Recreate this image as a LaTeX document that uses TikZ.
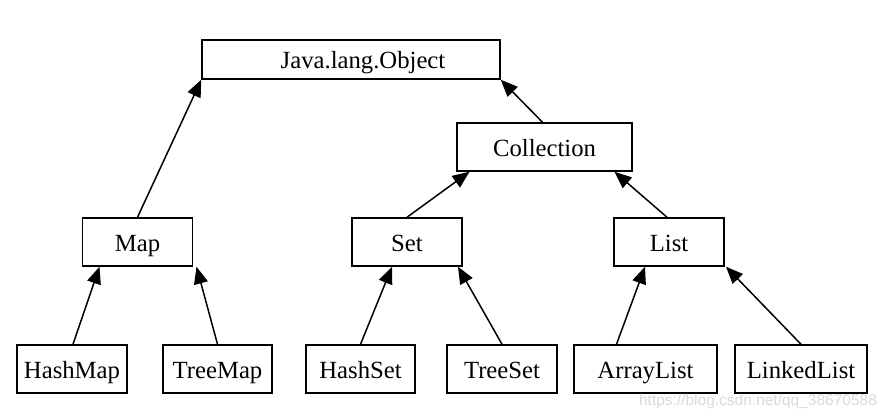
\documentclass[tikz,border=0pt]{standalone}
\usepackage{fontspec}
\setmainfont{Liberation Serif}
\newfontfamily\wmfont{Liberation Sans}
\usetikzlibrary{arrows.meta}

\tikzset{
    cls/.style={draw, line width=1.5pt, minimum height=48pt, inner sep=0pt,
        text height=20pt, text depth=2pt,
        font=\fontsize{24.7}{28}\selectfont},
    inherit/.style={line width=1.5pt, -{Triangle[length=17pt,width=14pt]}},
    wm/.style={text=gray!30, font=\wmfont\fontsize{15.5}{18}\selectfont}
}

\begin{document}
\begin{tikzpicture}[x=1pt, y=-1pt]
    \useasboundingbox (0,0) rectangle (890,418);

    % Root and Collection
    \node[cls, minimum width=298pt, minimum height=39pt] (object) at (351,59.5) {\hspace*{24pt}Java.lang.Object};
    \node[cls, minimum width=175pt] (collection) at (544.5,147) {Collection};

    % Interfaces
    \foreach \name/\x/\txt in {map/137.5/Map, set/407/Set, list/669/List} {
        \node[cls, minimum width=110pt] (\name) at (\x,242) {\txt};
    }

    % Implementations
    \foreach \name/\x/\w/\txt in {hashmap/72/110/HashMap, treemap/217.5/109/TreeMap,
        hashset/360.5/109/HashSet, treeset/502/110/TreeSet,
        arraylist/645.5/143/ArrayList, linkedlist/801/132/LinkedList} {
        \node[cls, minimum width=\w pt] (\name) at (\x,369) {\txt};
    }

    % Inheritance arrows
    \draw[inherit] (map.north) -- (object.south west);
    \draw[inherit] ([xshift=-2pt]collection.north) -- (object.south east);
    \draw[inherit] (set.north) -- ([xshift=-75pt]collection.south);
    \draw[inherit] ([xshift=-2pt]list.north) -- ([xshift=70pt]collection.south);
    \draw[inherit] ([xshift=1pt]hashmap.north) -- ([xshift=-38pt]map.south);
    \draw[inherit] (treemap.north) -- ([xshift=59pt]map.south);
    \draw[inherit] (hashset.north) -- ([xshift=-15pt]set.south);
    \draw[inherit] (treeset.north) -- ([xshift=51pt]set.south);
    \draw[inherit] ([xshift=-29pt]arraylist.north) -- ([xshift=-24pt]list.south);
    \draw[inherit] (linkedlist.north) -- ([xshift=57pt]list.south);

    % Watermark
    \node[wm] (watermark) at (758,401) {https://blog.csdn.net/qq\_38670588};
\end{tikzpicture}
\end{document}
